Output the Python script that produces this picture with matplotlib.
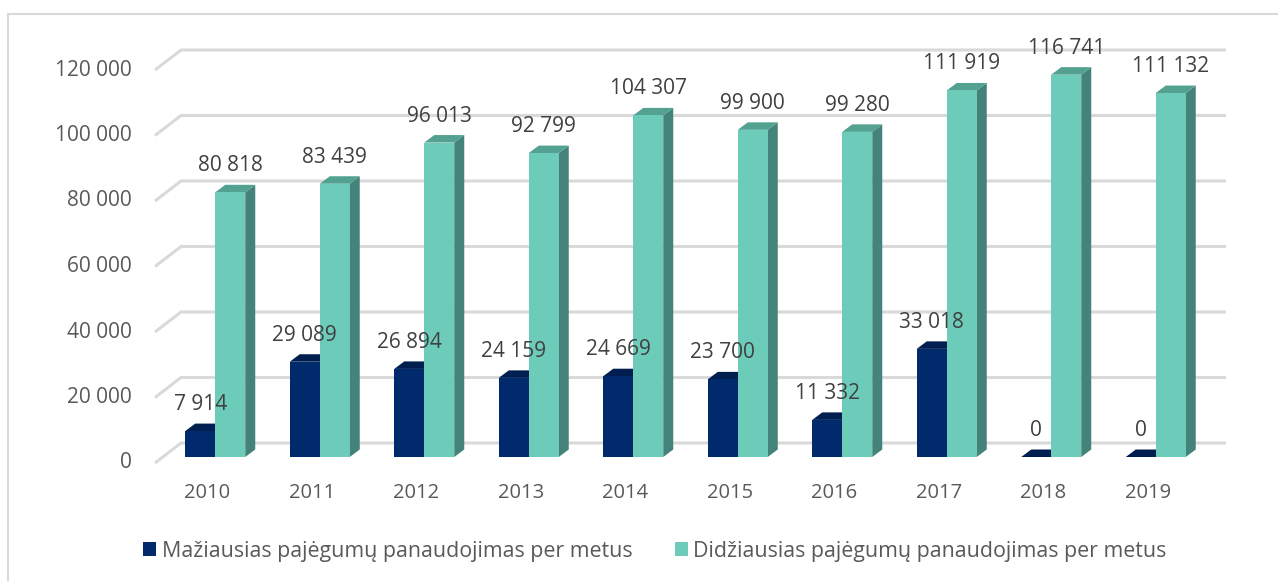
import matplotlib
matplotlib.use('Agg')
import matplotlib.pyplot as plt
from matplotlib.patches import Polygon, Rectangle, Patch

# duomenys
metai = ['2010', '2011', '2012', '2013', '2014', '2015', '2016', '2017', '2018', '2019']
maziausias = [7914, 29089, 26894, 24159, 24669, 23700, 11332, 33018, 0, 0]
didziausias = [80818, 83439, 96013, 92799, 104307, 99900, 99280, 111919, 116741, 111132]
y_ticks = [0, 20000, 40000, 60000, 80000, 100000, 120000]
serijos = ['Mažiausias pajėgumų panaudojimas per metus',
           'Didžiausias pajėgumų panaudojimas per metus']

# spalvos (priekis, šonas, viršus)
NAVY = ('#002A6C', '#001C4A', '#001E50')
GREEN = ('#6DCBB9', '#44837A', '#52A191')
GRID = '#D9D9D9'

plt.rcParams['font.family'] = ['Open Sans', 'DejaVu Sans']

# pikselių geometrija
W, H = 1278, 581
X0, SLOT = 155, 104.5          # priekinės plokštumos kairė, kategorijos plotis
Y0, PPU = 463, 393 / 120000    # nulio linija, px per vienetą

def px_x(p):
    return (p - X0) / SLOT - 0.5

def dx(p):
    return p / SLOT

def dy(p):
    return p / PPU

fig = plt.figure(figsize=(W / 100, H / 100), dpi=100)
ax = fig.add_axes([0, 0, 1, 1])
ax.set_xlim(px_x(0), px_x(W))
ax.set_ylim((Y0 - H) / PPU, Y0 / PPU)
ax.axis('off')

# rėmelis
fig.add_artist(Rectangle((8 / W, -0.1), 1.2, (H - 14) / H + 0.1,
                         transform=fig.transFigure, fill=False,
                         edgecolor=GRID, linewidth=1.5))

# tinklelis (galinė siena)
wall_dx, wall_dy = dx(26), dy(20)
for t in y_ticks:
    xs = [-0.5, -0.5 + wall_dx, len(metai) - 0.5 + wall_dx]
    ys = [t, t + wall_dy, t + wall_dy]
    ax.plot(xs, ys, color=GRID, linewidth=2.2, solid_capstyle='butt', zorder=1)
    ax.text(px_x(132), t, f"{t:,}".replace(",", " "), ha='right', va='center',
            fontsize=15, color='#595959')

# stulpeliai
bw = dx(30)
off = dx(8)
base = dy(6)
ddx, ddy = dx(10), dy(7.5)

def stulpelis(xl, v, cols, z):
    xr = xl + bw
    top = base + v
    ax.add_patch(Polygon([(xr, base), (xr + ddx, base + ddy), (xr + ddx, top + ddy), (xr, top)],
                         closed=True, facecolor=cols[1], edgecolor='none', zorder=z))
    ax.add_patch(Polygon([(xl, top), (xr, top), (xr + ddx, top + ddy), (xl + ddx, top + ddy)],
                         closed=True, facecolor=cols[2], edgecolor='none', zorder=z))
    ax.bar(xl, v, width=bw, bottom=base, align='edge', color=cols[0],
           edgecolor='none', zorder=z + 0.5)

for i, (a, b) in enumerate(zip(maziausias, didziausias)):
    left = i + off - bw
    stulpelis(left, a, NAVY, 3)
    stulpelis(i + off, b, GREEN, 5)
    ax.text(left + bw / 2, base + a + dy(16), f"{a:,}".replace(",", " "),
            ha='center', va='bottom', fontsize=15, color='#404040', zorder=10)
    ax.text(i + off + bw / 2, base + b + dy(16), f"{b:,}".replace(",", " "),
            ha='center', va='bottom', fontsize=15, color='#404040', zorder=10)
    ax.text(i, dy(-30), metai[i], ha='center', va='center', fontsize=14.5, color='#595959')

# legenda
handles = [Patch(facecolor=NAVY[0], label=serijos[0]),
           Patch(facecolor=GREEN[0], label=serijos[1])]
fig.legend(handles=handles, loc='center', bbox_to_anchor=(655 / W, 1 - 551 / H), ncol=2,
           frameon=False, fontsize=15.4, labelcolor='#595959', handlelength=0.6,
           handleheight=0.6, handletextpad=0.25, columnspacing=2.0)

fig.savefig('out.png', dpi=100)
